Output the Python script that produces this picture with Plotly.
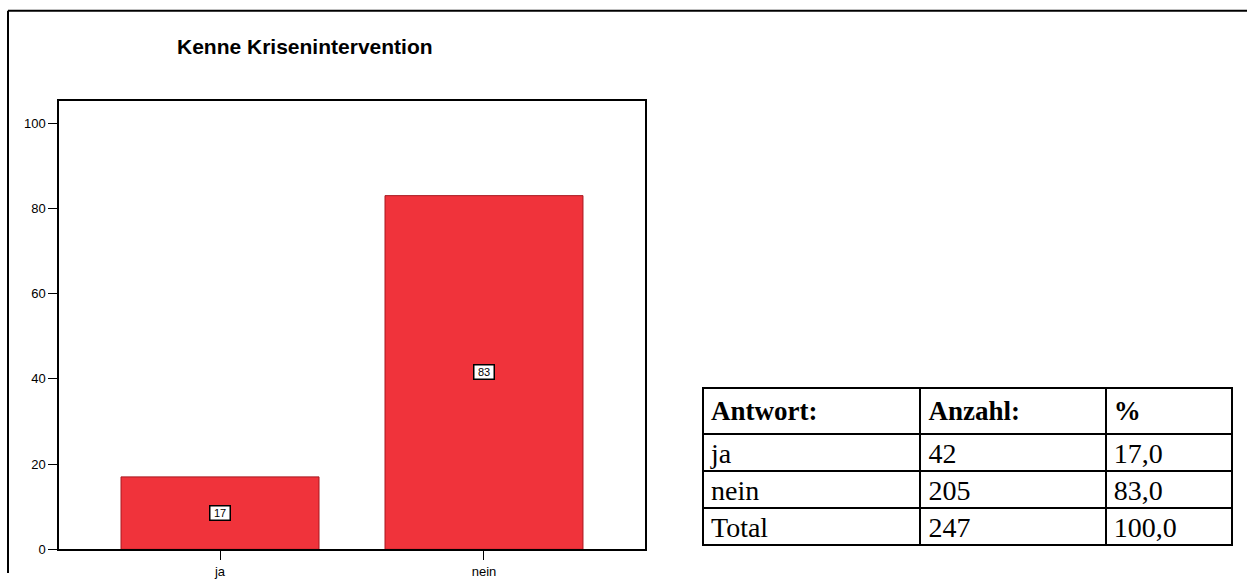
import plotly.graph_objects as go

# Chart data
categories = ["ja", "nein"]
percent = [17, 83]
y_ticks = [0, 20, 40, 60, 80, 100]

# Table data
table_header = ["Antwort:", "Anzahl:", "%"]
table_answers = ["ja", "nein", "Total"]
table_counts = ["42", "205", "247"]
table_pct = ["17,0", "83,0", "100,0"]

W, H = 1247, 581


def px(x):
    return x / W


def py(y):
    return 1 - y / H


fig = go.Figure()

fig.add_trace(go.Bar(
    x=list(range(len(categories))),
    y=percent,
    width=0.75,
    marker=dict(color="#F0333B", line=dict(color="#A8161E", width=1)),
    hoverinfo="skip",
))

# value boxes centred in each bar
for i, v in enumerate(percent):
    fig.add_annotation(
        x=i, y=v / 2, xref="x", yref="y", text=str(v), showarrow=False,
        font=dict(family="Liberation Sans, Arial", size=11, color="black"),
        bgcolor="white", bordercolor="black", borderwidth=1.5, borderpad=0,
        width=19, height=13,
    )

fig.add_trace(go.Table(
    domain=dict(x=[px(703), px(1232)], y=[0, py(393)]),
    columnwidth=[217, 185, 126],
    header=dict(
        values=[f"<b>{h}</b>" for h in table_header],
        height=33, align="left",
        line=dict(color="black", width=2),
        fill=dict(color="white"),
        font=dict(family="Liberation Serif, Times New Roman", size=27, color="black"),
    ),
    cells=dict(
        values=[table_answers, table_counts, table_pct],
        height=37, align="left",
        line=dict(color="black", width=2),
        fill=dict(color="white"),
        font=dict(family="Liberation Serif, Times New Roman", size=28, color="black"),
    ),
))

# title
fig.add_annotation(
    x=px(305), y=py(47), xref="paper", yref="paper",
    xanchor="center", yanchor="middle",
    text="<b>Kenne Krisenintervention</b>", showarrow=False,
    font=dict(family="Liberation Sans, Arial", size=21, color="black"),
)

# outer frame (left and top edges)
fig.add_shape(type="line", xref="paper", yref="paper",
              x0=px(8), x1=px(8), y0=0, y1=py(11),
              line=dict(color="black", width=2))
fig.add_shape(type="line", xref="paper", yref="paper",
              x0=px(8), x1=1, y0=py(11), y1=py(11),
              line=dict(color="black", width=2))

fig.update_layout(
    width=W, height=H,
    margin=dict(l=0, r=0, t=0, b=0),
    paper_bgcolor="white", plot_bgcolor="white",
    showlegend=False,
    font=dict(family="Liberation Sans, Arial", size=13, color="black"),
    xaxis=dict(
        domain=[px(59), px(645)],
        range=[-0.61, 1.61],
        tickvals=list(range(len(categories))), ticktext=categories,
        ticks="outside", ticklen=9, tickcolor="black",
        showline=True, linecolor="black", linewidth=1.5, mirror=True,
        showgrid=False, zeroline=False,
        tickfont=dict(size=13, color="black"),
    ),
    yaxis=dict(
        domain=[py(557), py(102)],
        range=[0, 105.3],
        tickvals=y_ticks,
        ticks="outside", ticklen=9, tickcolor="black",
        showline=True, linecolor="black", linewidth=1.5, mirror=True,
        showgrid=False, zeroline=False,
        tickfont=dict(size=13, color="black"),
    ),
)

fig.write_html("out.html")
